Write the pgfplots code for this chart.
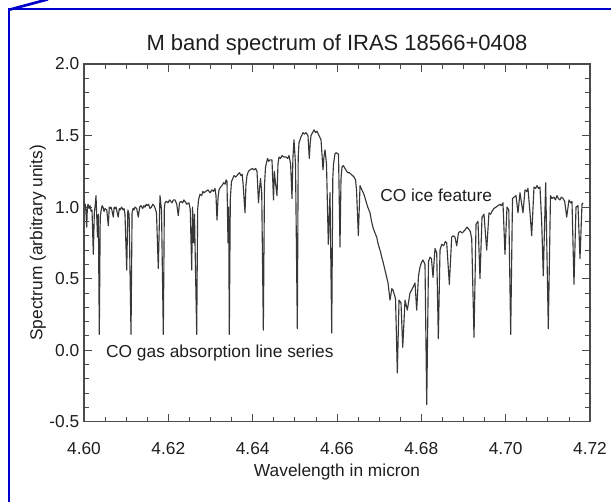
\documentclass[border=0pt]{standalone}
\usepackage{pgfplots}
\pgfplotsset{compat=1.18}
\usepackage{pgfplotstable}
\usepackage{fontspec}
\setmainfont{Liberation Sans}
\definecolor{frameblue}{RGB}{0,0,205}
\definecolor{axisgray}{RGB}{75,75,75}
\definecolor{specgray}{RGB}{55,55,55}
\definecolor{textgray}{RGB}{30,30,30}
\pgfplotstableread{
lam val
4.60000 1.03
4.60015 1.01
4.60030 1.02
4.60045 0.97
4.60064 0.86
4.60080 1.00
4.60095 1.02
4.60120 0.99
4.60142 1.01
4.60170 0.97
4.60190 0.98
4.60221 0.67
4.60245 0.96
4.60261 1.00
4.60285 1.08
4.60320 0.79
4.60340 0.95
4.60363 0.11
4.60385 0.93
4.60403 0.97
4.60430 1.01
4.60451 1.00
4.60475 0.97
4.60498 0.99
4.60540 0.98
4.60576 0.87
4.60600 1.00
4.60617 0.99
4.60640 1.00
4.60660 0.98
4.60695 0.93
4.60715 1.00
4.60735 0.99
4.60760 1.00
4.60780 0.97
4.60813 0.93
4.60835 0.99
4.60854 0.98
4.60890 1.00
4.60925 0.98
4.60950 0.99
4.60972 0.95
4.61013 0.56
4.61040 0.98
4.61070 0.95
4.61115 0.11
4.61140 0.96
4.61162 0.99
4.61185 0.98
4.61209 1.00
4.61250 0.99
4.61288 0.93
4.61320 1.00
4.61352 1.01
4.61390 0.99
4.61420 1.01
4.61447 1.00
4.61475 1.02
4.61500 1.01
4.61530 1.02
4.61565 0.99
4.61600 1.00
4.61630 1.02
4.61660 1.01
4.61690 0.99
4.61719 0.96
4.61762 0.57
4.61802 1.08
4.61838 0.98
4.61881 0.11
4.61905 0.99
4.61921 1.03
4.61955 1.04
4.61992 1.03
4.62030 1.05
4.62060 1.04
4.62087 1.03
4.62120 1.05
4.62158 1.05
4.62200 1.02
4.62236 0.94
4.62265 1.03
4.62300 1.04
4.62340 1.03
4.62370 1.05
4.62395 1.04
4.62440 1.02
4.62490 1.03
4.62520 0.98
4.62554 0.56
4.62575 1.00
4.62597 0.75
4.62620 0.95
4.62673 0.11
4.62695 0.98
4.62715 1.05
4.62751 1.09
4.62790 1.08
4.62820 1.11
4.62846 1.10
4.62890 1.11
4.62941 1.12
4.62990 1.10
4.63035 1.12
4.63070 1.11
4.63107 1.13
4.63130 1.08
4.63154 0.91
4.63180 1.07
4.63202 1.12
4.63240 1.14
4.63273 1.15
4.63310 1.17
4.63344 1.16
4.63370 1.19
4.63391 1.18
4.63415 0.75
4.63430 1.00
4.63446 0.11
4.63470 1.06
4.63498 1.18
4.63530 1.20
4.63557 1.22
4.63600 1.21
4.63652 1.23
4.63690 1.24
4.63723 1.22
4.63750 1.23
4.63771 1.17
4.63818 0.96
4.63840 1.15
4.63865 1.22
4.63900 1.25
4.63937 1.26
4.63990 1.27
4.64032 1.26
4.64070 1.27
4.64103 1.25
4.64138 1.03
4.64160 1.12
4.64186 1.20
4.64215 1.10
4.64253 0.14
4.64280 1.15
4.64305 1.28
4.64352 1.34
4.64380 1.32
4.64411 1.33
4.64458 1.33
4.64494 1.05
4.64515 1.25
4.64530 1.20
4.64577 1.08
4.64600 1.30
4.64624 1.35
4.64660 1.34
4.64696 1.36
4.64740 1.35
4.64791 1.35
4.64830 1.34
4.64862 1.36
4.64900 1.30
4.64933 1.06
4.64955 1.35
4.64980 1.47
4.65016 1.30
4.65059 0.15
4.65080 1.35
4.65099 1.45
4.65146 1.49
4.65194 1.52
4.65230 1.51
4.65265 1.52
4.65312 1.50
4.65343 1.34
4.65365 1.45
4.65384 1.50
4.65420 1.52
4.65455 1.54
4.65490 1.52
4.65526 1.53
4.65573 1.50
4.65621 1.47
4.65668 1.26
4.65690 1.35
4.65716 1.40
4.65751 1.30
4.65794 0.74
4.65834 1.10
4.65875 0.12
4.65900 1.20
4.65917 1.30
4.65950 1.37
4.65977 1.38
4.66036 1.37
4.66071 0.72
4.66095 1.20
4.66119 1.28
4.66150 1.29
4.66190 1.27
4.66230 1.25
4.66261 1.24
4.66300 1.24
4.66332 1.23
4.66370 1.22
4.66403 1.21
4.66440 1.19
4.66463 1.12
4.66506 0.80
4.66546 1.15
4.66590 1.12
4.66624 1.10
4.66660 1.07
4.66688 1.04
4.66730 1.00
4.66783 0.96
4.66820 0.90
4.66861 0.85
4.66900 0.82
4.66942 0.79
4.66970 0.75
4.66997 0.72
4.67030 0.69
4.67061 0.65
4.67098 0.61
4.67130 0.57
4.67162 0.53
4.67210 0.47
4.67257 0.35
4.67300 0.43
4.67328 0.42
4.67388 0.36
4.67431 -0.16
4.67471 0.35
4.67518 0.33
4.67559 0.02
4.67613 0.35
4.67668 0.28
4.67731 0.40
4.67770 0.42
4.67803 0.44
4.67850 0.47
4.67890 0.28
4.67933 0.52
4.67968 0.58
4.68000 0.61
4.68040 0.63
4.68087 0.60
4.68128 -0.38
4.68170 0.62
4.68206 0.65
4.68240 0.64
4.68277 0.51
4.68324 0.71
4.68365 0.68
4.68403 0.08
4.68443 0.70
4.68483 0.74
4.68530 0.73
4.68570 0.76
4.68602 0.75
4.68664 0.46
4.68720 0.79
4.68760 0.80
4.68798 0.79
4.68839 0.73
4.68880 0.82
4.68917 0.83
4.68970 0.82
4.69036 0.84
4.69080 0.86
4.69114 0.85
4.69160 0.83
4.69195 0.78
4.69249 0.09
4.69297 0.88
4.69344 0.90
4.69391 0.50
4.69439 0.93
4.69486 0.95
4.69550 0.70
4.69604 0.96
4.69640 0.95
4.69676 0.97
4.69720 0.99
4.69771 1.00
4.69820 1.01
4.69865 1.02
4.69900 1.01
4.69936 1.03
4.69984 0.67
4.70031 1.00
4.70074 0.98
4.70119 0.11
4.70162 1.06
4.70200 1.07
4.70245 1.08
4.70292 0.96
4.70340 1.10
4.70411 0.96
4.70458 1.12
4.70500 1.11
4.70529 1.13
4.70577 0.96
4.70617 0.80
4.70672 1.14
4.70710 1.13
4.70743 1.15
4.70780 1.13
4.70814 1.14
4.70855 0.89
4.70892 0.52
4.70949 1.17
4.71011 0.15
4.71063 1.08
4.71100 1.06
4.71146 1.07
4.71180 1.05
4.71217 1.08
4.71250 1.06
4.71288 1.05
4.71320 1.07
4.71359 1.06
4.71400 1.04
4.71447 0.93
4.71502 1.05
4.71540 1.03
4.71573 1.04
4.71620 0.46
4.71668 1.00
4.71715 1.01
4.71763 0.64
4.71810 1.02
4.71834 1.03
}\spec

\begin{document}
\begin{tikzpicture}
\useasboundingbox (0,0) rectangle (458.25pt,376.5pt);
\draw[frameblue, line width=1.6pt] (6.9pt,0) -- (6.9pt,369.7pt) -- (458.25pt,369.7pt);
\draw[frameblue, line width=2pt] (6.9pt,369.2pt) -- (36pt,377pt);
\begin{axis}[
  at={(63pt,60.2pt)}, anchor=south west,
  scale only axis, width=379.5pt, height=268.3pt,
  xmin=4.60, xmax=4.72, ymin=-0.5, ymax=2.0,
  xtick={4.60,4.62,4.64,4.66,4.68,4.70,4.72},
  minor x tick num=3,
  ytick={-0.5,0,0.5,1,1.5,2},
  minor y tick num=4,
  tick align=inside,
  major tick length=6pt, minor tick length=3.5pt,
  axis line style={axisgray, line width=0.8pt},
  every tick/.style={axisgray, line width=0.6pt},
  /pgf/number format/assume math mode=true,
  x tick label style={/pgf/number format/fixed, /pgf/number format/fixed zerofill, /pgf/number format/precision=2, font=\fontsize{13pt}{15pt}\selectfont, text=textgray, yshift=-12pt},
  y tick label style={/pgf/number format/fixed, /pgf/number format/fixed zerofill, /pgf/number format/precision=1, font=\fontsize{13pt}{15pt}\selectfont, text=textgray},
  xlabel={Wavelength in micron},
  ylabel={Spectrum (arbitrary units)},
  every axis x label/.style={at={(axis description cs:0.5,-0.1406)}, anchor=center, font=\fontsize{13pt}{15pt}\selectfont, text=textgray},
  every axis y label/.style={at={(axis description cs:-0.0909,0.5)}, rotate=90, anchor=center, font=\fontsize{13pt}{15pt}\selectfont, text=textgray},
  title={M band spectrum of IRAS 18566+0408},
  every axis title/.style={at={(axis description cs:0.5,1.0531)}, anchor=center, font=\fontsize{16.5pt}{19pt}\selectfont, text=textgray},
  clip=true,
]
\addplot[specgray, line width=0.85pt, line join=round] table[x=lam, y=val] {\spec};
\node[anchor=west, inner sep=0pt, font=\fontsize{13pt}{15pt}\selectfont, text=textgray] at (axis cs:4.6052,-0.018) {CO gas absorption line series};
\node[anchor=west, inner sep=0pt, font=\fontsize{13pt}{15pt}\selectfont, text=textgray] at (axis cs:4.6702,1.084) {CO ice feature};
\end{axis}
\end{tikzpicture}
\end{document}
